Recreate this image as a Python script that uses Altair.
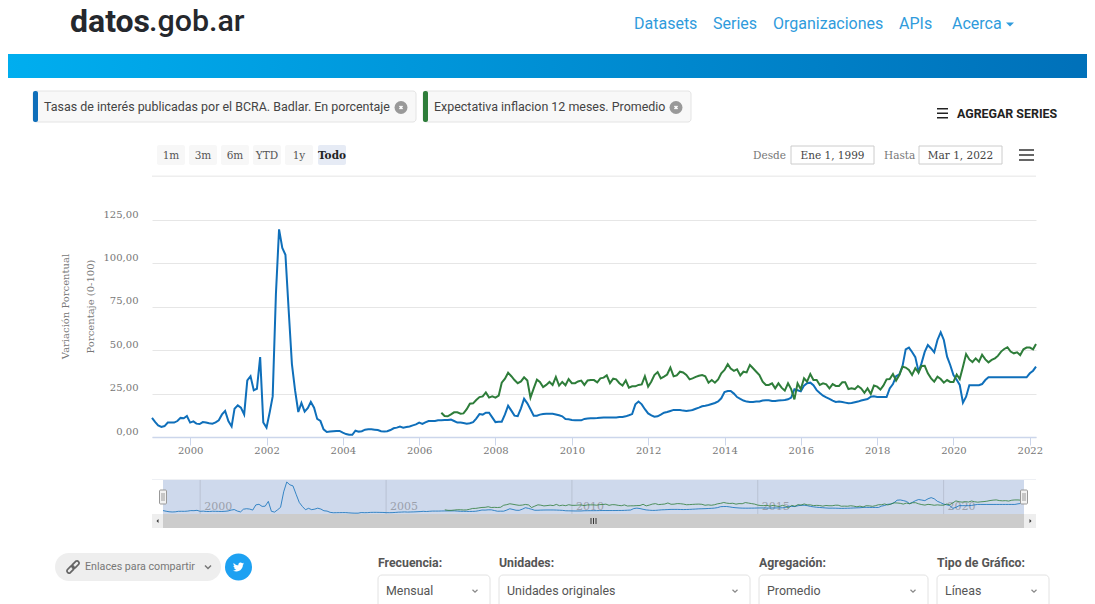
import altair as alt
import pandas as pd

BLUE = [11,8.6,6.7,5.8,6.3,8.3,8.4,8.3,9.2,11,10.8,12.1,8.3,9,7.7,7.5,8.6,8.3,7.9,7.7,8.4,9.6,13,15,9.2,6.1,16.3,18.2,16.9,13,
32.6,35,26.9,27.8,46,8.4,5.4,14.4,23.4,82.5,119.6,108.9,105,73,42,27,14.4,19.6,14.6,16.7,20.2,16.9,10.4,9.2,4.4,2.9,3.1,3.3,3.5,3.5,
2.5,1.7,1.3,1.3,3.6,3.1,3.3,4.2,4.4,4.4,4.2,4,3.3,3.1,3.3,4,5,5.4,6,5.4,5.8,6.1,6.7,7.3,8.3,7.5,8.4,9.2,9.2,9.2,
9.6,9.7,9.8,9.8,10,9.2,8.3,8.3,8.1,7.7,7.9,8.6,10.6,13.2,12.9,14,14,11.3,8.6,8.8,8.8,13,18,15.2,12.3,12,16.5,22,19.4,16,
12.3,12.3,12.9,13.2,13.4,13.4,13.4,13,12.5,11.9,10.4,10.2,9.8,9.6,9.6,9.6,10.4,10.6,10.8,10.8,10.9,11.1,11.3,11.3,11.3,11.3,11.3,11.5,11.5,11.9,
12.5,13.2,18.8,20.4,18.8,16,13.6,12.5,11.7,11.9,12.9,14,14.4,15,15.6,15.6,15.6,15.2,15,15.2,15.6,16.3,16.9,17.7,18,18.4,19,19.6,20.5,22.3,
25.9,26.5,26.5,25,23,21.9,21,20.4,20.2,20.2,20.4,20.5,21,21.1,21.1,20.7,20.7,21,21.1,21.3,21.7,22.7,27.5,26.9,26.3,29.6,31,31.3,29.8,27,
25.3,23.8,22.8,22,21,20.2,20.4,20.2,19.8,19.4,19.6,20,20.4,21,21.5,21.9,23.2,23.4,23,23,23,23,28,30.5,35,36,41,50.5,51.5,49,
46,37.6,42.4,49,53,51,48.8,55.9,60.3,55.9,46.3,41.5,35.7,33,30,19.8,23.2,29.8,29.8,29.8,29.8,30.5,32.8,34.4,34.4,34.4,34.4,34.4,34.4,34.4,
34.4,34.4,34.4,34.4,34.4,34.4,36.7,38.2,40.5]

GREEN_START_INDEX = 91
GREEN = [14,12.1,11.9,13,14.2,14.2,13.4,13.6,16,19.2,19.4,21.3,23,23.4,25.7,22.7,23.4,22.7,23.8,31.3,33.6,37,35,32.8,31,32,34.4,32.5,22.7,28,
33,31.7,28.8,30,31.7,30,34.6,29.6,31.7,29.8,33.4,31,31,32,32.5,30,32.6,32.8,32.8,31.5,33.8,34.2,35.5,31,33.6,33.2,31,29.6,32.6,28.4,
29.2,29.2,30,30.3,35,29,32,35.7,37.4,33.8,34.8,36,40,35,35.5,37.6,37.2,35.7,33.2,33.8,34.6,35.3,35.7,35,31.3,32.8,31.3,33.2,36.7,38.6,
41.9,39.4,38.1,39,35.5,37.6,37.2,41.5,39.6,37.6,35.7,31.9,30,30,30.9,28,30.9,28.4,26.7,30.9,27.6,21.7,30.9,27.5,33.8,31.9,36.3,32.8,32.8,30,
30.9,30.3,28,30.5,29.4,29.4,31.5,31.5,27.6,28,27.6,29.4,28,25.5,28,24.8,29.6,29,27.3,29.6,33.2,33.4,36.3,32.5,35.7,40.5,40,38.6,35.7,39.6,
37,40.9,41,36.7,33.8,31.9,34.8,33.4,31.3,32.8,31.7,31.7,36,33.4,40.5,47.8,44.7,43.2,45.3,43.4,47.4,44.7,43,44.4,45.3,46.7,49.2,50.7,51.7,49.2,
48.2,48.8,47.2,50.5,51.5,51.5,50.5,53.6]

SERIES_BLUE = "Tasas de interés publicadas por el BCRA. Badlar. En porcentaje"
SERIES_GREEN = "Expectativa inflacion 12 meses. Promedio"
NAV_LINKS = ["Datasets", "Series", "Organizaciones", "APIs", "Acerca"]
RANGE_BUTTONS = ["1m", "3m", "6m", "YTD", "1y", "Todo"]
MAIN_YEARS = list(range(2000, 2023, 2))
NAV_YEARS = [2000, 2005, 2010, 2015, 2020]
Y_TICKS = [0, 25, 50, 75, 100, 125]

dates = pd.date_range("1999-01-01", periods=len(BLUE), freq="MS")
df = pd.concat([
    pd.DataFrame({"fecha": dates.strftime("%Y-%m-%d"), "valor": BLUE, "serie": "Badlar"}),
    pd.DataFrame({"fecha": dates[GREEN_START_INDEX:GREEN_START_INDEX + len(GREEN)].strftime("%Y-%m-%d"),
                  "valor": GREEN, "serie": "Expectativa"}),
])
nav_df = pd.DataFrame({"fecha": [f"{y}-01-01" for y in NAV_YEARS], "label": [str(y) for y in NAV_YEARS]})

M = 8  # page margin
ONE = alt.Data(values=[{"k": 0}])
SERIF = "DejaVu Serif"
C_BLUE, C_GREEN = "#0f6fba", "#2e7d3a"


def rect(x0, y0, x1, y1, **kw):
    return alt.Chart(ONE).mark_rect(**kw).encode(
        x=alt.value(x0 - M), x2=alt.value(x1 - M), y=alt.value(y0 - M), y2=alt.value(y1 - M))


def txt(x, y, s, size=13, color="#555", font="Roboto", weight="normal", align="left", **kw):
    return alt.Chart(ONE).mark_text(text=s, fontSize=size, color=color, font=font, fontWeight=weight,
                                    align=align, baseline="middle", **kw).encode(
        x=alt.value(x - M), y=alt.value(y - M))


def icon(x, y, shape, size, color, filled=False, stroke=1.5):
    kw = dict(fill=color, opacity=1) if filled else dict(stroke=color, strokeWidth=stroke, opacity=1)
    return alt.Chart(ONE).mark_point(shape=shape, size=size, filled=filled, **kw).encode(
        x=alt.value(x - M), y=alt.value(y - M))


CHEVRON = "M-1,-0.5L0,0.5L1,-0.5"
CROSS = "M-.5,-.5L.5,.5M-.5,.5L.5,-.5"
LINK = ("M-.39,.81L.11,.31A.3,.3 0 0 0 -.31,-.11L-.81,.39A.3,.3 0 0 0 -.39,.81Z"
        "M.39,-.81L-.11,-.31A.3,.3 0 0 0 .31,.11L.81,-.39A.3,.3 0 0 0 .39,-.81Z")
BIRD = ("M23.953 4.57a10 10 0 01-2.825.775 4.958 4.958 0 002.163-2.723c-.951.555-2.005.959-3.127 1.184"
        "a4.92 4.92 0 00-8.384 4.482C7.69 8.095 4.067 6.13 1.64 3.162a4.822 4.822 0 00-.666 2.475"
        "c0 1.71.87 3.213 2.188 4.096a4.904 4.904 0 01-2.228-.616v.06a4.923 4.923 0 003.946 4.827"
        " 4.996 4.996 0 01-2.212.085 4.936 4.936 0 004.604 3.417 9.867 9.867 0 01-6.102 2.105"
        "c-.39 0-.779-.023-1.17-.067a13.995 13.995 0 007.557 2.209c9.053 0 13.998-7.496 13.998-13.985"
        " 0-.21 0-.42-.015-.63A9.935 9.935 0 0024 4.59z")

layers = []
# header
layers += [txt(70, 22, "datos", size=32, color="#25282d", weight="bold"),
           txt(149, 22, ".gob.ar", size=30.4, color="#25282d", weight=500)]
for x, s in zip([634, 713, 773, 899, 952], NAV_LINKS):
    layers.append(txt(x, 23.5, s, size=16, color="#2f9bdc"))
layers.append(icon(1010, 24.5, "M-1,-0.5L1,-0.5L0,0.5Z", 64, "#2f9bdc", filled=True))
layers.append(rect(5, 54, 1095, 78, color=alt.Gradient(gradient="linear", x1=0, x2=1, y1=0, y2=0,
              stops=[alt.GradientStop(offset=0, color="#00aeef"), alt.GradientStop(offset=1, color="#0070b9")])))

# chips
for x0, x1, c, s in [(33, 416, C_BLUE, SERIES_BLUE), (423, 691, C_GREEN, SERIES_GREEN)]:
    layers += [rect(x0, 91, x1, 122, fill="#f8f8f8", stroke="#e4e4e4", cornerRadius=3),
               rect(x0, 91, x0 + 5, 122, fill=c, cornerRadius=2),
               txt(x0 + 11, 106.5, s, size=12.45, color="#444"),
               icon(x1 - 15, 107.5, "circle", 169, "#999", filled=True),
               icon(x1 - 15, 107.5, CROSS, 36, "#fff", stroke=1.5)]
for y in [109, 113.5, 118]:
    layers.append(rect(937, y - 1, 948, y + 0.5, fill="#222"))
layers.append(txt(957, 114, "AGREGAR SERIES", size=12.4, color="#222", weight="bold"))

# range selector
for x, s in zip([157, 189, 221, 253, 285, 318], RANGE_BUTTONS):
    sel = s == "Todo"
    layers += [rect(x, 145, x + 28, 165, fill="#e6ebf5" if sel else "#f7f7f7", cornerRadius=2),
               txt(x + 14, 155.5, s, size=10.5, color="#222" if sel else "#555", font=SERIF,
                   weight="bold" if sel else "normal", align="center")]
layers += [txt(753, 155.5, "Desde", size=10.5, color="#777", font=SERIF),
           rect(791, 146, 874, 164, fill="#fff", stroke="#ccc"),
           txt(832.5, 155.5, "Ene 1, 1999", size=10.5, color="#444", font=SERIF, align="center"),
           txt(884, 155.5, "Hasta", size=10.5, color="#777", font=SERIF),
           rect(919, 146, 1002, 164, fill="#fff", stroke="#ccc"),
           txt(960.5, 155.5, "Mar 1, 2022", size=10.5, color="#444", font=SERIF, align="center")]
for y in [150, 155, 160]:
    layers.append(rect(1019, y - 1, 1034, y + 1, fill="#666"))
layers.append(rect(152, 175.5, 1036, 177, fill="#eeeeee"))

# navigator
nav_x = alt.Scale(domain=["1999-01-01", "2022-03-01"], range=[163 - M, 1024 - M])
nav_y = alt.Scale(domain=[0, 125], range=[513.5 - M, 480.6 - M], nice=False, zero=False)
layers.append(rect(152, 479, 1036, 480, fill="#eef0f4"))
layers.append(rect(163, 480, 1024, 514, fill="#ced9ec"))
layers.append(alt.Chart(nav_df).mark_rule(color="#b9c2d3", strokeWidth=1).encode(
    x=alt.X("fecha:T", scale=nav_x, axis=None), y=alt.value(480 - M), y2=alt.value(514 - M)))
layers.append(alt.Chart(nav_df).mark_text(align="left", dx=4, fontSize=11, font=SERIF, color="#9aa0ab").encode(
    x=alt.X("fecha:T", scale=nav_x, axis=None), y=alt.value(507 - M), text="label:N"))
layers.append(alt.Chart(df).mark_line(strokeWidth=1, opacity=0.8).encode(
    x=alt.X("fecha:T", scale=nav_x, axis=None),
    y=alt.Y("valor:Q", scale=nav_y, axis=None),
    color=alt.Color("serie:N", scale=alt.Scale(domain=["Badlar", "Expectativa"], range=[C_BLUE, C_GREEN]), legend=None)))
layers += [rect(152, 514, 1036, 528, fill="#cccccc"),
           rect(152, 514, 163, 528, fill="#eeeeee"),
           rect(1024, 514, 1036, 528, fill="#eeeeee"),
           icon(157.5, 521, "M.5,-1L-.5,0L.5,1Z", 16, "#333", filled=True),
           icon(1030.5, 521, "M-.5,-1L.5,0L-.5,1Z", 16, "#333", filled=True)]
for x in [591, 593.5, 596]:
    layers.append(rect(x - .5, 518, x + .5, 524, fill="#333"))
for x in [163, 1024]:
    layers.append(rect(x - 3.5, 490, x + 3.5, 504, fill="#f2f2f2", stroke="#999", cornerRadius=1))
    layers += [rect(x - 1.5, 493, x - .5, 501, fill="#999"), rect(x + .5, 493, x + 1.5, 501, fill="#999")]

# main chart
main_x = alt.Scale(domain=["1999-01-01", "2022-03-01"], range=[152 - M, 1036 - M])
main_y = alt.Scale(domain=[0, 125], range=[437 - M, 220 - M], nice=False, zero=False)
main = alt.Chart(df).mark_line(strokeWidth=2, interpolate="linear").encode(
    x=alt.X("fecha:T", scale=main_x, title=None, axis=alt.Axis(
        values=[alt.DateTime(year=y, month=1, date=1) for y in MAIN_YEARS], format="%Y", grid=False,
        offset=(437 - M) - 596, tickSize=8, tickColor="#ccd6eb", domainColor="#ccd6eb", domainWidth=1.5,
        labelFont=SERIF, labelFontSize=10, labelColor="#777", labelPadding=0, labelOverlap=False, labelFlush=False)),
    y=alt.Y("valor:Q", scale=main_y, axis=alt.Axis(
        values=Y_TICKS, labelExpr="replace(format(datum.value,'.2f'),'.',',')", offset=-(152 - M),
        grid=True, gridColor="#e6e6e6", domain=False, ticks=False, labelPadding=14, labelOffset=-6,
        labelFont=SERIF, labelFontSize=10, labelColor="#777",
        title=["Variación Porcentual", "Porcentaje (0-100)"], titleFont=SERIF, titleFontSize=10,
        titleFontWeight="normal", titleColor="#777", titleLineHeight=25, titleAlign="center",
        titleX=-82, titleY=(306 - M))),
    color=alt.Color("serie:N", scale=alt.Scale(domain=["Badlar", "Expectativa"], range=[C_BLUE, C_GREEN]), legend=None))
layers.append(main)

# footer
layers += [rect(55, 553, 221, 581, fill="#eeeeee", cornerRadius=14),
           icon(73, 567, LINK, 196, "#666", stroke=1.8),
           txt(85, 567, "Enlaces para compartir", size=10.7, color="#777"),
           icon(208, 567, CHEVRON, 36, "#777", stroke=1.5),
           icon(238.5, 567, "circle", 729, "#1da1f2", filled=True),
           icon(238.5 - 5.5, 567 - 5.5, BIRD, 0.84, "#ffffff", filled=True)]
for x, s in zip([378, 499, 759, 937], ["Frecuencia:", "Unidades:", "Agregación:", "Tipo de Gráfico:"]):
    layers.append(txt(x, 563, s, size=12.3, color="#555", weight="bold"))
for x0, x1, s in [(378, 490, "Mensual"), (499, 750, "Unidades originales"), (759, 928, "Promedio"), (937, 1049, "Líneas")]:
    layers += [rect(x0, 575, x1, 612, fill="#fff", stroke="#e2e2e2", cornerRadius=4),
               txt(x0 + 8, 591, s, size=12.4, color="#555"),
               icon(x1 - 15, 591, CHEVRON, 25, "#888", stroke=1.2)]

chart = alt.layer(*layers).resolve_scale(x="independent", y="independent", color="independent").properties(
    width=1079, height=596, padding=0, background="#ffffff",
    autosize=alt.AutoSizeParams(type="none", contains="padding"),
).configure_view(stroke=None)

chart.save("out.html", embed_options={"renderer": "svg", "actions": False})
